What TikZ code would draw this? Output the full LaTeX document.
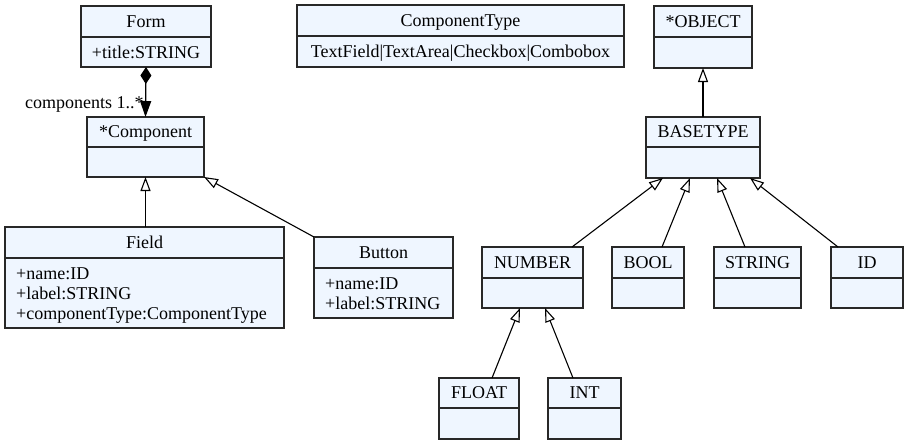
\documentclass[tikz,border=0pt]{standalone}
\usepackage{fontspec}
\setmainfont{Liberation Serif}
\usetikzlibrary{arrows.meta,calc}
\definecolor{clsfill}{RGB}{239,246,255}
\definecolor{clsborder}{RGB}{40,40,40}
\tikzset{
  clsbox/.style={draw=clsborder, line width=1.4pt, fill=clsfill, inner sep=0pt, outer sep=0pt, rectangle},
  clsdiv/.style={draw=clsborder, line width=1.4pt},
  ttl/.style={anchor=base, inner sep=0pt},
  attr/.style={anchor=base west, inner sep=0pt},
  attrc/.style={anchor=base, inner sep=0pt},
  gen/.style={draw=black, line width=1.1pt, -{Triangle[open,length=14pt,width=10pt,fill=white]}},
  comp/.style={draw=black, line width=1.2pt, {Diamond[length=17pt,width=11pt]}-{Triangle[length=16pt,width=11pt]}},
  lbl/.style={anchor=base west, inner sep=0pt},
}
\newcommand{\umlclass}[7]{%
  \node[clsbox, minimum width={#4pt-#2pt}, minimum height={#5pt-#3pt}] (#1) at ({(#2+#4)/2},{(#3+#5)/2}) {};
  \draw[clsdiv] (#2,#6) -- (#4,#6);
  \node[ttl] (#1-title) at ({(#2+#4)/2},#6-9.5) {#7};
}
\begin{document}
\begin{tikzpicture}[x=1pt,y=-1pt,font=\fontsize{18pt}{20pt}\selectfont]
\path[fill=white,use as bounding box] (0,0) rectangle (909,445);

\umlclass{form}{81}{6}{211}{67}{37}{Form}
\node[attrc] (form-a1) at (146,58) {+title:STRING};

\umlclass{ctype}{297}{5}{624}{67}{36}{ComponentType}
\node[attrc] (ctype-a1) at (460.5,57) {TextField|TextArea|Checkbox|Combobox};

\umlclass{object}{654}{6}{752}{68}{37}{*OBJECT}

\umlclass{component}{87}{117}{204}{177}{147}{*Component}
\umlclass{basetype}{646}{117}{760}{178}{147}{BASETYPE}

\umlclass{field}{5}{227}{284}{328}{258}{Field}
\node[attr] (field-a1) at (16,279) {+name:ID};
\node[attr] (field-a2) at (16,299) {+label:STRING};
\node[attr] (field-a3) at (16,319) {+componentType:ComponentType};

\umlclass{button}{314}{237}{453}{318}{268}{Button}
\node[attr] (button-a1) at (325,289) {+name:ID};
\node[attr] (button-a2) at (325,309) {+label:STRING};

\umlclass{number}{482}{247}{583}{308}{278}{NUMBER}
\umlclass{bool}{612}{247}{684}{308}{278}{BOOL}
\umlclass{string}{714}{247}{801}{308}{278}{STRING}
\umlclass{id}{831}{247}{903}{308}{278}{ID}

\umlclass{float}{439}{378}{519}{439}{408}{FLOAT}
\umlclass{int}{548}{378}{621}{439}{408}{INT}

% connectors
\draw[comp] (form.south) -- (component.north);
\node[lbl] (complabel) at (25,108) {components 1..*};

\draw[gen] (field.north -| component.south) -- (component.south);
\draw[gen] (button.north west) -- (component.south east);

\draw[gen] (basetype.north) -- (object.south);
\draw[gen] ([xshift=39.5pt]number.north) -- ([xshift=-40pt]basetype.south);
\draw[gen] ([xshift=14pt]bool.north) -- ([xshift=-13pt]basetype.south);
\draw[gen] ([xshift=-12.5pt]string.north) -- ([xshift=14pt]basetype.south);
\draw[gen] ([xshift=-29pt]id.north) -- ([xshift=47pt]basetype.south);

\draw[gen] ([xshift=13pt]float.north) -- ([xshift=-12.5pt]number.south);
\draw[gen] ([xshift=-11.5pt]int.north) -- ([xshift=12.5pt]number.south);
\end{tikzpicture}
\end{document}
